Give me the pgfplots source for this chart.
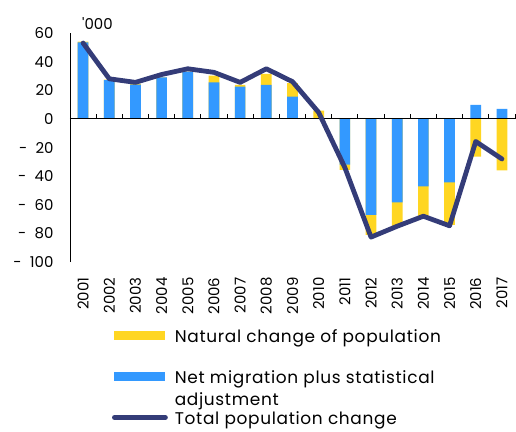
\documentclass[border=0pt]{standalone}
\usepackage{pgfplots}
\pgfplotsset{compat=1.18}
\usepackage{fontspec}
\setmainfont{Poppins}
\newfontfamily\legfont[LetterSpace=4]{Poppins}
\definecolor{natyel}{RGB}{255,214,34}
\definecolor{migblue}{RGB}{51,153,255}
\definecolor{totnavy}{RGB}{52,60,120}
\newcommand{\lstrut}{\rule[-4bp]{0pt}{20bp}}
\begin{document}
\begin{tikzpicture}
\begin{axis}[
  at={(0,0)}, anchor=south west,
  scale only axis, width=445bp, height=229bp,
  xmin=-0.5, xmax=16.5, ymin=-100, ymax=60,
  clip=false,
  axis y line*=left, axis x line*=bottom,
  x axis line style={draw=none},
  y axis line style={line width=0.9bp},
  xtick={0,...,16},
  xticklabels={2001,2002,2003,2004,2005,2006,2007,2008,2009,2010,2011,2012,2013,2014,2015,2016,2017},
  xtick style={draw=none}, ytick style={draw=none},
  ytick={-100,-80,-60,-40,-20,0,20,40,60},
  yticklabels={-\hspace{0.55em}100,-\hspace{0.55em}80,-\hspace{0.55em}60,-\hspace{0.55em}40,-\hspace{0.55em}20,0,20,40,60},
  xticklabel style={rotate=90, anchor=east},
  xticklabel shift=12bp,
  yticklabel shift=13bp,
  tick label style={font=\fontsize{15}{18}\selectfont},
  legend cell align=left,
  legend style={at={(0.094,-0.282)}, anchor=north west, draw=none, fill=none,
    inner sep=0pt, row sep=23.5bp, column sep=7bp,
    font=\legfont\fontsize{17}{22}\selectfont,
    nodes={inner sep=0pt},
    cells={anchor=west, align=left}},
]
\addplot[ybar, bar width=10.7bp, bar shift=0pt, fill=natyel, draw=none,
  legend image code/.code={\fill[natyel] (0bp,-4.5bp) rectangle (51bp,4.5bp);}]
  coordinates {(0,54) (1,27.5) (2,24.5) (3,29) (4,33) (5,30.2) (6,23.7) (7,31.4) (8,24.9) (9,5.8) (10,-35.6) (11,-81) (12,-75.1) (13,-67.7) (14,-74) (15,-26.3) (16,-36)};
\addlegendentry{\lstrut Natural change of population}
\addplot[ybar, bar width=10.7bp, bar shift=0pt, fill=migblue, draw=none,
  legend image code/.code={\fill[migblue] (0bp,-4.5bp) rectangle (51bp,4.5bp);}]
  coordinates {(0,53.5) (1,27) (2,24) (3,29) (4,33) (5,25.5) (6,22.6) (7,23.7) (8,15.6) (9,0) (10,-32) (11,-67) (12,-58.4) (13,-47.2) (14,-44.4) (15,9.8) (16,7)};
\addlegendentry{\raisebox{0pt}[16bp][4bp]{\begin{tabular}[t]{@{}l@{}}Net migration plus statistical\\adjustment\end{tabular}}}
\draw[black, line width=0.9bp] (axis cs:-0.5,0) -- (axis cs:16.5,0);
\pgfplotsinvokeforeach{-0.5,0.5,1.5,2.5,3.5,4.5,5.5,6.5,7.5,8.5,9.5,10.5,11.5,12.5,13.5,14.5,15.5,16.5}{
  \draw[black, line width=0.9bp] (axis cs:#1,0) -- (axis cs:#1,3.1);
}
\addplot[totnavy, line width=4.8bp, line cap=round, line join=round, mark=none,
  legend image code/.code={\draw[totnavy, line width=4.8bp, line cap=round] (0bp,0bp) -- (51bp,0bp);}]
  coordinates {(0,53) (1,28) (2,25.5) (3,31) (4,35) (5,32.5) (6,25.5) (7,35) (8,26) (9,4.5) (10,-34) (11,-82.6) (12,-75) (13,-68) (14,-74.7) (15,-15.8) (16,-28)};
\addlegendentry{\lstrut Total population change}
\end{axis}
\node[anchor=west, font=\fontsize{15}{18}\selectfont, inner sep=0pt] at (12bp,238bp) {\textquotesingle 000};
\pgfresetboundingbox
\path[use as bounding box] (-70bp,-170bp) rectangle (446bp,262bp);
\end{tikzpicture}
\end{document}
